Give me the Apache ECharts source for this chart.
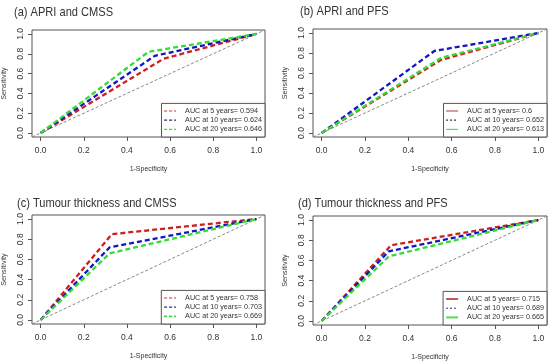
<!DOCTYPE html>
<html>
<head>
<meta charset="utf-8">
<script src="https://cdn.jsdelivr.net/npm/echarts@6/dist/echarts.min.js"></script>
<style>html,body{margin:0;padding:0;background:#fff}#c{width:550px;height:363px}</style>
</head>
<body>
<div id="c"></div>
<script>
// ---- data ----
const tickValues = [0, 0.2, 0.4, 0.6, 0.8, 1.0];
const diagonal = [-0.04, 1.04];
const titles = ['(a) APRI and CMSS', '(b) APRI and PFS', '(c) Tumour thickness and CMSS', '(d) Tumour thickness and PFS'];
const seriesNames = [
  ['AUC at 5 years= 0.594', 'AUC at 10 years= 0.624', 'AUC at 20 years= 0.646'],
  ['AUC at 5 years= 0.6', 'AUC at 10 years= 0.652', 'AUC at 20 years= 0.613'],
  ['AUC at 5 years= 0.758', 'AUC at 10 years= 0.703', 'AUC at 20 years= 0.669'],
  ['AUC at 5 years= 0.715', 'AUC at 10 years= 0.689', 'AUC at 20 years= 0.665']
];
// false positive rate (1-specificity) and sensitivity per panel, per horizon (5, 10, 20 years)
const fprA = [[0, 0.57, 1], [0, 0.53, 1], [0, 0.50, 1]];
const tprA = [[0, 0.75, 1], [0, 0.78, 1], [0, 0.82, 1]];
const fprB = [[0, 0.55, 1], [0, 0.52, 1], [0, 0.55, 1]];
const tprB = [[0, 0.73, 1], [0, 0.82, 1], [0, 0.75, 1]];
const fprC = [[0, 0.33, 1], [0, 0.32, 1], [0, 0.32, 1]];
const tprC = [[0, 0.85, 1], [0, 0.72, 1], [0, 0.66, 1]];
const fprD = [[0, 0.32, 1], [0, 0.31, 1], [0, 0.31, 1]];
const tprD = [[0, 0.75, 1], [0, 0.69, 1], [0, 0.64, 1]];

// ---- styling / layout ----
const FONT = "'Liberation Sans', Arial, sans-serif";
const TXT = '#333';
const curveColors = ['#cc2020', '#1515c8', '#33dd33'];
const grids = [
  {left: 32, top: 30, width: 233, height: 107},
  {left: 313, top: 29, width: 234, height: 108},
  {left: 32, top: 215, width: 233, height: 109},
  {left: 313, top: 216, width: 234, height: 109}
];
const titlePos = [[14, 12], [300, 11], [17, 203], [298, 203]];
const legendPos = [
  {right: 285, bottom: 226}, {right: 3, bottom: 226},
  {right: 285, bottom: 39}, {right: 3, bottom: 38}
];
const legendStyles = [
  [{color: '#d03030', type: [3, 2], width: 1.2}, {color: '#30307a', type: [3, 2], width: 1.2}, {color: '#33dd33', type: [3, 2], width: 1.2}],
  [{color: '#c05a5a', type: 'solid', width: 1.2}, {color: '#303050', type: [2, 2], width: 1.2}, {color: '#55dd55', type: 'solid', width: 1.2}],
  [{color: '#d03030', type: [3, 2], width: 1.2}, {color: '#30307a', type: [3, 2], width: 1.2}, {color: '#33dd33', type: [3, 2], width: 1.6}],
  [{color: '#c05a5a', type: 'solid', width: 2}, {color: '#303050', type: [2, 2], width: 1}, {color: '#55dd55', type: 'solid', width: 2}]
];
const fprs = [fprA, fprB, fprC, fprD];
const tprs = [tprA, tprB, tprC, tprD];

const option = {
  animation: false,
  backgroundColor: '#fff',
  textStyle: {fontFamily: FONT},
  graphic: titles.map((t, i) => ({
    type: 'text', x: titlePos[i][0], y: titlePos[i][1], scaleX: 0.82, silent: true,
    style: {text: t, font: "13.5px " + FONT, fill: '#333', textAlign: 'left', textVerticalAlign: 'middle'}
  })),
  grid: grids.map(g => Object.assign({show: true, borderColor: '#555', borderWidth: 1, backgroundColor: 'transparent', outerBoundsMode: 'none'}, g)),
  xAxis: grids.map((g, i) => ({
    type: 'value', gridIndex: i, min: diagonal[0], max: diagonal[1], position: 'bottom',
    axisLine: {show: false, onZero: false}, splitLine: {show: false},
    axisTick: {show: true, customValues: tickValues, length: 4, lineStyle: {color: '#555'}},
    axisLabel: {customValues: tickValues, formatter: v => v.toFixed(1), fontSize: 8.5, color: TXT, margin: 9, fontFamily: FONT},
    name: '1-Specificity', nameLocation: 'middle', nameGap: 29,
    nameTextStyle: {fontSize: 7, color: TXT, fontFamily: FONT}
  })),
  yAxis: grids.map((g, i) => ({
    type: 'value', gridIndex: i, min: diagonal[0], max: diagonal[1], position: 'left',
    axisLine: {show: false, onZero: false}, splitLine: {show: false},
    axisTick: {show: true, customValues: tickValues, length: 4, lineStyle: {color: '#555'}},
    axisLabel: {customValues: tickValues, formatter: v => v.toFixed(1), fontSize: 8.5, color: TXT, margin: 7, rotate: 90, fontFamily: FONT},
    name: 'Sensitivity', nameLocation: 'middle', nameGap: 24, nameRotate: 90,
    nameTextStyle: {fontSize: 7.2, color: TXT, fontFamily: FONT}
  })),
  legend: seriesNames.map((names, i) => ({
    orient: 'vertical', right: legendPos[i].right, bottom: legendPos[i].bottom,
    data: names.map((n, k) => ({name: n, lineStyle: legendStyles[i][k], itemStyle: {color: legendStyles[i][k].color, opacity: 0}})),
    borderColor: '#555', borderWidth: 1, backgroundColor: '#fff', borderRadius: 0,
    padding: [4, 3, 4, 2], itemGap: 2, itemWidth: 12, itemHeight: 9,
    selectedMode: false,
    textStyle: {fontSize: 7.2, color: TXT, fontFamily: FONT, padding: [0, 0, 0, 4]}
  })),
  series: []
};

for (let i = 0; i < 4; i++) {
  option.series.push({
    type: 'line', xAxisIndex: i, yAxisIndex: i, symbol: 'none', silent: true,
    data: diagonal.map(v => [v, v]),
    lineStyle: {color: '#888', width: 1, type: [3, 2]}, z: 1
  });
  for (let k = 0; k < 3; k++) {
    option.series.push({
      name: seriesNames[i][k],
      type: 'line', xAxisIndex: i, yAxisIndex: i, symbol: 'none', silent: true,
      color: curveColors[k],
      data: fprs[i][k].map((x, j) => [x, tprs[i][k][j]]),
      lineStyle: {color: curveColors[k], width: 2.3, type: [5, 3]}, z: 2 + k
    });
  }
}

const chart = echarts.init(document.getElementById('c'), null, {renderer: 'canvas'});
chart.setOption(option);
</script>
</body>
</html>
